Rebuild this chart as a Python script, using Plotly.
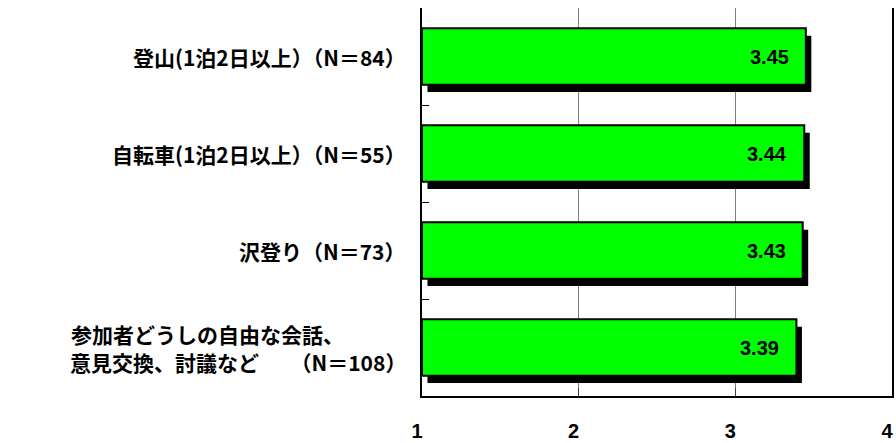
import plotly.graph_objects as go

categories = [
    "登山(1泊2日以上）（N＝84）",
    "自転車(1泊2日以上）（N＝55）",
    "沢登り（N＝73）",
    "参加者どうしの自由な会話、<br>意見交換、討議など　　（N＝108）",
]
values = [3.45, 3.44, 3.43, 3.39]
x_ticks = [1, 2, 3, 4]
x_base = 1

ids = list(range(len(categories)))
lengths = [v - x_base for v in values]

BAR_W = 0.58
SH_X = 0.035   # shadow shift (data units)
SH_Y = 0.075   # shadow shift (category units)

fig = go.Figure()
# shadow
fig.add_trace(go.Bar(
    y=ids, x=lengths, base=x_base + SH_X, orientation="h",
    width=BAR_W, offset=-BAR_W / 2 + SH_Y,
    marker=dict(color="black", line=dict(width=0)),
    hoverinfo="skip", showlegend=False,
))
# bars
fig.add_trace(go.Bar(
    y=ids, x=lengths, base=x_base, orientation="h",
    width=BAR_W, offset=-BAR_W / 2,
    marker=dict(color="#00FF00", line=dict(color="black", width=2)),
    showlegend=False,
))

LBL_FONT = dict(family="Noto Sans CJK JP", size=21, color="black", weight="bold")
annotations = []
for i, (c, v) in enumerate(zip(categories, values)):
    lines = c.split("<br>")
    if len(lines) == 1:
        annotations.append(dict(
            x=0, xref="paper", y=i, yref="y", text=lines[0], showarrow=False,
            xanchor="right", xshift=-14, font=LBL_FONT,
        ))
    else:
        annotations.append(dict(
            x=0, xref="paper", y=i, yref="y", text=lines[0], showarrow=False,
            xanchor="right", xshift=-76, yshift=14, font=LBL_FONT,
        ))
        annotations.append(dict(
            x=0, xref="paper", y=i, yref="y", text=lines[1], showarrow=False,
            xanchor="right", xshift=-14, yshift=-14, font=LBL_FONT,
        ))
    annotations.append(dict(
        x=v, xref="x", y=i, yref="y", text=f"{v:.2f}", showarrow=False,
        xanchor="right", xshift=-15,
        font=dict(family="Liberation Sans", size=20, color="black", weight="bold"),
    ))

fig.update_layout(
    width=896, height=443,
    margin=dict(l=422, r=4, t=8, b=47, autoexpand=False),
    paper_bgcolor="white", plot_bgcolor="white",
    barmode="overlay",
    annotations=annotations,
    xaxis=dict(
        range=[1, 4], tickvals=x_ticks, ticktext=[str(t) for t in x_ticks],
        showgrid=True, gridcolor="#808080", gridwidth=1,
        showline=True, linecolor="black", linewidth=2,
        ticks="inside", ticklen=8, tickcolor="#404040",
        ticklabelstandoff=16, ticklabelshift=-5,
        tickfont=dict(family="Liberation Sans", size=20, color="black", weight="bold"),
        zeroline=False, automargin=False,
    ),
    yaxis=dict(
        range=[3.5, -0.5], tickvals=[-0.5, 0.5, 1.5, 2.5, 3.5],
        showticklabels=False, showgrid=False, zeroline=False,
        showline=True, mirror=True, linecolor="black", linewidth=2,
        ticks="inside", ticklen=7, tickcolor="black", automargin=False,
    ),
)

fig.write_html("out.html")
